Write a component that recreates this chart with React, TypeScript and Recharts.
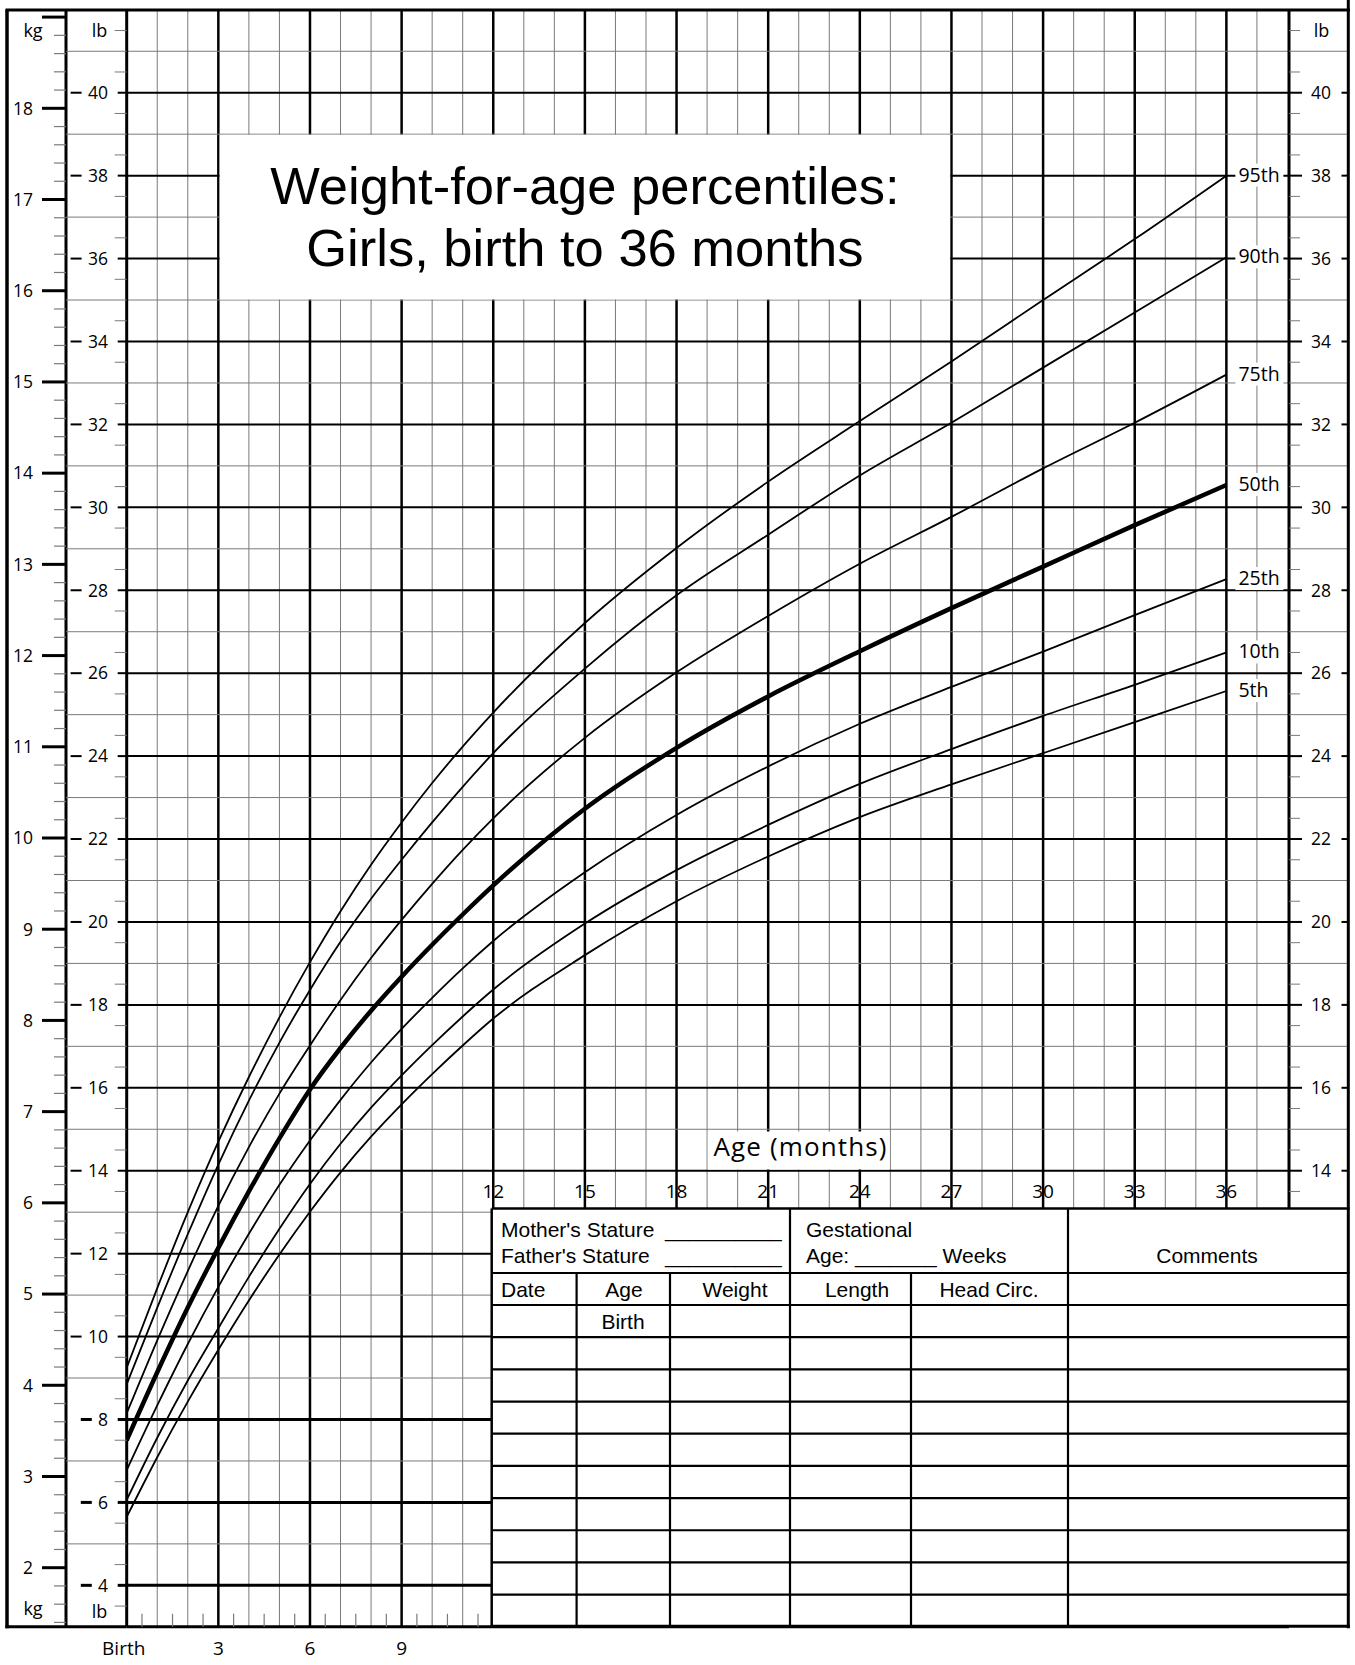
import React from 'react';
import { ComposedChart, Line, XAxis, YAxis, ReferenceLine, ReferenceDot } from 'recharts';

// ---------------- data (lb) ----------------
const ageMonths = [0, 1, 2, 3, 4, 5, 6, 7, 8, 9, 10, 11, 12, 15, 18, 21, 24, 27, 30, 33, 36];
const p95 = [9.25, 11.17, 13.0, 14.7, 16.26, 17.7, 19.03, 20.26, 21.38, 22.4, 23.35, 24.23, 25.05, 27.21, 29.02, 30.62, 32.08, 33.52, 35.0, 36.47, 38.0];
const p90 = [8.85, 10.7, 12.47, 14.15, 15.69, 17.09, 18.36, 19.52, 20.56, 21.5, 22.4, 23.26, 24.07, 26.11, 27.88, 29.34, 30.77, 32.04, 33.37, 34.7, 36.03];
const p75 = [8.15, 9.91, 11.58, 13.15, 14.57, 15.86, 17.02, 18.12, 19.13, 20.05, 20.92, 21.74, 22.5, 24.44, 26.02, 27.38, 28.64, 29.77, 30.94, 32.04, 33.2];
const p50 = [7.5, 9.14, 10.7, 12.14, 13.5, 14.78, 15.96, 16.96, 17.86, 18.68, 19.45, 20.18, 20.88, 22.73, 24.2, 25.44, 26.53, 27.57, 28.57, 29.57, 30.54];
const p25 = [6.78, 8.34, 9.82, 11.2, 12.48, 13.66, 14.73, 15.71, 16.61, 17.42, 18.17, 18.88, 19.54, 21.2, 22.58, 23.75, 24.78, 25.67, 26.52, 27.4, 28.27];
const p10 = [6.06, 7.56, 8.94, 10.2, 11.44, 12.6, 13.68, 14.65, 15.52, 16.3, 17.03, 17.72, 18.37, 19.96, 21.25, 22.34, 23.33, 24.17, 24.97, 25.72, 26.5];
const p5 = [5.65, 7.09, 8.43, 9.68, 10.87, 11.98, 13.01, 13.96, 14.82, 15.6, 16.33, 17.02, 17.67, 19.2, 20.5, 21.58, 22.53, 23.32, 24.07, 24.82, 25.57];

const percentileKeys = ['p95', 'p90', 'p75', 'p50', 'p25', 'p10', 'p5'];
const percentileNames = ['95th', '90th', '75th', '50th', '25th', '10th', '5th'];
const percentileSeries = [p95, p90, p75, p50, p25, p10, p5];

const bottomAgeTicks = [0, 3, 6, 9];
const bottomAgeTickLabels = ['Birth', '3', '6', '9'];
const upperAgeTicks = [12, 15, 18, 21, 24, 27, 30, 33, 36];

const titleLines = ['Weight-for-age percentiles:', 'Girls, birth to 36 months'];
const ageAxisTitle = 'Age (months)';
const tableColumnNames = ['Date', 'Age', 'Weight', 'Length', 'Head Circ.'];
const tableFirstRowAge = 'Birth';

const rows = ageMonths.map((m, i) => {
  const r: any = { m };
  percentileKeys.forEach((k, j) => { r[k] = percentileSeries[j][i]; });
  return r;
});

// ---------------- geometry ----------------
const W = 1355;
const H = 1665;
const PLOT_L = 126.7;
const PLOT_R = 1289;
const PLOT_T = 9.8;
const PLOT_B = 1626.8;
const LB_AXIS_W = 60.7;
const KG_AXIS_W = 60;
const R_AXIS_W = 59;
const X_MAX = 38.05;
const Y_MIN = 3;
const Y_MAX = 42;
const KG_MIN = 1.352;
const KG_MAX = 19.08;

const GRAY = '#7a7a7a';
const FONT_AXIS = '"Open Sans", "Noto Sans", sans-serif';
const FONT_TITLE = '"Liberation Sans", Arial, sans-serif';

const xOf = (m: number) => PLOT_L + (m / X_MAX) * (PLOT_R - PLOT_L);
const yOf = (lb: number) => PLOT_T + ((Y_MAX - lb) / (Y_MAX - Y_MIN)) * (PLOT_B - PLOT_T);

const monthLines = Array.from({ length: 37 }, (_, i) => i + 1);
const lbLines = Array.from({ length: 38 }, (_, i) => i + 4);
const lbTicks = Array.from({ length: 77 }, (_, i) => 3.5 + i * 0.5);
const kgTicks = Array.from({ length: 89 }, (_, i) => (i + 7) / 5);
const ageTicks = Array.from({ length: 76 }, (_, i) => i * 0.5);

// ---------------- ticks ----------------
function LbLeftTick(props: any) {
  const { x, y, payload } = props;
  const v: number = payload.value;
  const r = Math.round(v);
  if (Math.abs(v - r) > 1e-6) {
    return <line x1={x - 12} x2={x} y1={y} y2={y} stroke={GRAY} strokeWidth={1} />;
  }
  if (r % 2 !== 0) {
    return <line x1={x - LB_AXIS_W} x2={x} y1={y} y2={y} stroke={GRAY} strokeWidth={1} />;
  }
  const label = String(r);
  const right = x - 18.7;
  const left = right - label.length * 10.2;
  const sw = r <= 8 ? 3 : 2;
  return (
    <g>
      <line x1={left - 17} x2={left - 6} y1={y} y2={y} stroke="#000" strokeWidth={sw} />
      <line x1={x - 9} x2={x} y1={y} y2={y} stroke="#000" strokeWidth={sw} />
      <text x={right} y={y} dy="0.36em" textAnchor="end" fontFamily={FONT_AXIS} fontSize={17.5} fill="#000">{label}</text>
    </g>
  );
}

function KgTick(props: any) {
  const { x, y, payload } = props;
  const i = Math.round(payload.value * 5);
  if (i % 5 !== 0) {
    return <line x1={x - 12} x2={x} y1={y} y2={y} stroke={GRAY} strokeWidth={1.2} />;
  }
  const k = i / 5;
  return (
    <g>
      <line x1={x - 24} x2={x} y1={y} y2={y} stroke="#000" strokeWidth={3} />
      {k >= 2 && k <= 18 ? (
        <text x={x - 33} y={y} dy="0.36em" textAnchor="end" fontFamily={FONT_AXIS} fontSize={17.5} fill="#000">{k}</text>
      ) : null}
    </g>
  );
}

function LbRightTick(props: any) {
  const { x, y, payload } = props;
  const v: number = payload.value;
  if (v < 13.2) return null;
  const r = Math.round(v);
  if (Math.abs(v - r) > 1e-6) {
    return <line x1={x} x2={x + 11} y1={y} y2={y} stroke={GRAY} strokeWidth={1} />;
  }
  if (r % 2 !== 0) {
    return <line x1={x} x2={x + R_AXIS_W} y1={y} y2={y} stroke={GRAY} strokeWidth={1} />;
  }
  return (
    <g>
      <line x1={x} x2={x + 13} y1={y} y2={y} stroke="#000" strokeWidth={2} />
      <text x={x + 22} y={y} dy="0.36em" textAnchor="start" fontFamily={FONT_AXIS} fontSize={17.5} fill="#000">{r}</text>
      <line x1={x + 52.5} x2={x + R_AXIS_W} y1={y} y2={y} stroke="#000" strokeWidth={2} />
    </g>
  );
}

function AgeTick(props: any) {
  const { x, y, payload } = props;
  const v: number = payload.value;
  const isHalf = Math.abs(v - Math.floor(v) - 0.5) < 1e-6;
  const idx = bottomAgeTicks.indexOf(v);
  return (
    <g>
      {isHalf ? <line x1={x} x2={x} y1={y - 13} y2={y} stroke={GRAY} strokeWidth={1.2} /> : null}
      {idx >= 0 ? (
        <text x={idx === 0 ? x - 3 : x} y={y + 28.2} textAnchor="middle" fontFamily={FONT_AXIS} fontSize={19} fill="#000">
          {bottomAgeTickLabels[idx]}
        </text>
      ) : null}
    </g>
  );
}

// ---------------- overlay: title, age box, table, frame ----------------
function Overlay() {
  const tL = 491.7;
  const tR = 1349.5;
  const tT = 1208.5;
  const row1B = 1273;
  const row2B = 1305;
  const rowH = (PLOT_B - row2B) / 10;
  const colX = [576.6, 670, 790, 911, 1068];
  const colCenters = [null, 624, 735, 857, 989];
  const tf = { fontFamily: FONT_TITLE, fontSize: 21, fill: '#000' } as any;
  const bodyRows = Array.from({ length: 9 }, (_, i) => row2B + (i + 1) * rowH);
  return (
    <svg width={W} height={H} style={{ position: 'absolute', left: 0, top: 0, pointerEvents: 'none' }}>
      {/* title box */}
      <rect x={xOf(3) + 1.3} y={yOf(39) + 0.6} width={xOf(27) - xOf(3) - 2.6} height={yOf(35) - yOf(39) - 1.2} fill="#fff" />
      <text x={(xOf(3) + xOf(27)) / 2} y={204} textAnchor="middle" fontFamily={FONT_TITLE} fontSize={52.5} fill="#000">{titleLines[0]}</text>
      <text x={(xOf(3) + xOf(27)) / 2} y={266} textAnchor="middle" fontFamily={FONT_TITLE} fontSize={52.5} fill="#000">{titleLines[1]}</text>

      {/* age axis title */}
      <rect x={xOf(19) + 0.7} y={1131.5} width={xOf(25) - xOf(19) - 1.4} height={38} fill="#fff" />
      <text x={800} y={1156} textAnchor="middle" fontFamily={FONT_AXIS} fontSize={26} textLength={173} lengthAdjust="spacing" fill="#000">{ageAxisTitle}</text>

      {/* table */}
      <rect x={tL} y={tT} width={tR - tL} height={PLOT_B - tT} fill="#fff" />
      <line x1={tL} x2={tR} y1={tT} y2={tT} stroke="#000" strokeWidth={2.5} />
      <line x1={tL} x2={tL} y1={tT} y2={PLOT_B} stroke="#000" strokeWidth={2.5} />
      <line x1={tL} x2={tR} y1={row1B} y2={row1B} stroke="#000" strokeWidth={2.2} />
      <line x1={tL} x2={tR} y1={row2B} y2={row2B} stroke="#000" strokeWidth={2.2} />
      {bodyRows.map((yy, i) => (
        <line key={'r' + i} x1={tL} x2={tR} y1={yy} y2={yy} stroke="#000" strokeWidth={2.2} />
      ))}
      <line x1={790} x2={790} y1={tT} y2={row1B} stroke="#000" strokeWidth={2.2} />
      <line x1={1068} x2={1068} y1={tT} y2={row1B} stroke="#000" strokeWidth={2.2} />
      {colX.map((cx, i) => (
        <line key={'c' + i} x1={cx} x2={cx} y1={row1B} y2={PLOT_B} stroke="#000" strokeWidth={2.2} />
      ))}
      <text x={501} y={1236.7} {...tf}>Mother's Stature</text>
      <text x={665} y={1236.7} {...tf}>__________</text>
      <text x={501} y={1262.7} {...tf}>Father's Stature</text>
      <text x={665} y={1262.7} {...tf}>__________</text>
      <text x={806} y={1236.7} {...tf}>Gestational</text>
      <text x={806} y={1262.7} {...tf}>Age: _______ Weeks</text>
      <text x={1207} y={1262.7} textAnchor="middle" {...tf}>Comments</text>
      <text x={501} y={1297} {...tf}>{tableColumnNames[0]}</text>
      {tableColumnNames.slice(1).map((n, i) => (
        <text key={n} x={colCenters[i + 1] as number} y={1297} textAnchor="middle" {...tf}>{n}</text>
      ))}
      <text x={623} y={1328.5} textAnchor="middle" {...tf}>{tableFirstRowAge}</text>

      {/* frame */}
      <line x1={7} x2={7} y1={PLOT_T} y2={PLOT_B + 1.5} stroke="#000" strokeWidth={3.5} />
      <line x1={5.5} x2={1350} y1={PLOT_T + 0.2} y2={PLOT_T + 0.2} stroke="#000" strokeWidth={3} />
      <line x1={1348.3} x2={1348.3} y1={0} y2={PLOT_B + 1.5} stroke="#000" strokeWidth={3} />
      <line x1={5.5} x2={PLOT_L} y1={PLOT_B} y2={PLOT_B} stroke="#000" strokeWidth={3} />
      <line x1={tL} x2={1350} y1={PLOT_B - 0.5} y2={PLOT_B - 0.5} stroke="#000" strokeWidth={3} />

      {/* unit labels */}
      <text x={33} y={37} textAnchor="middle" fontFamily={FONT_AXIS} fontSize={18} fill="#000">kg</text>
      <text x={99.5} y={37} textAnchor="middle" fontFamily={FONT_AXIS} fontSize={18} fill="#000">lb</text>
      <text x={1321.5} y={37} textAnchor="middle" fontFamily={FONT_AXIS} fontSize={18} fill="#000">lb</text>
      <text x={33} y={1615} textAnchor="middle" fontFamily={FONT_AXIS} fontSize={18} fill="#000">kg</text>
      <text x={99.5} y={1618} textAnchor="middle" fontFamily={FONT_AXIS} fontSize={18} fill="#000">lb</text>
    </svg>
  );
}

export default function App() {
  return (
    <div style={{ position: 'absolute', left: 0, top: 0, width: W, height: H, background: '#fff' }}>
      <ComposedChart
        width={W}
        height={H}
        data={rows}
        margin={{ top: PLOT_T, right: W - PLOT_R - R_AXIS_W, bottom: 0, left: PLOT_L - LB_AXIS_W - KG_AXIS_W }}
      >
        <XAxis
          dataKey="m"
          type="number"
          domain={[0, X_MAX]}
          allowDataOverflow
          ticks={ageTicks}
          interval={0}
          height={H - PLOT_B}
          tickSize={0}
          tickMargin={0}
          tickLine={false}
          axisLine={{ stroke: '#000', strokeWidth: 3 }}
          tick={<AgeTick />}
        />
        <YAxis
          type="number"
          domain={[Y_MIN, Y_MAX]}
          allowDataOverflow
          ticks={lbTicks}
          interval={0}
          width={LB_AXIS_W}
          tickSize={0}
          tickMargin={0}
          tickLine={false}
          axisLine={{ stroke: '#000', strokeWidth: 3 }}
          tick={<LbLeftTick />}
        />
        <YAxis
          yAxisId="kg"
          type="number"
          domain={[KG_MIN, KG_MAX]}
          allowDataOverflow
          ticks={kgTicks}
          interval={0}
          width={KG_AXIS_W}
          tickSize={0}
          tickMargin={0}
          tickLine={false}
          axisLine={{ stroke: '#000', strokeWidth: 3 }}
          tick={<KgTick />}
        />
        <YAxis
          yAxisId="r"
          orientation="right"
          type="number"
          domain={[Y_MIN, Y_MAX]}
          allowDataOverflow
          ticks={lbTicks}
          interval={0}
          width={R_AXIS_W}
          tickSize={0}
          tickMargin={0}
          tickLine={false}
          axisLine={{ stroke: '#000', strokeWidth: 3 }}
          tick={<LbRightTick />}
        />

        {monthLines.map((m) => (
          <ReferenceLine
            key={'vm' + m}
            x={m}
            stroke={m % 3 === 0 ? '#000' : GRAY}
            strokeWidth={m % 3 === 0 ? 2.5 : 1}
          />
        ))}
        {lbLines.map((v) => (
          <ReferenceLine
            key={'hl' + v}
            y={v}
            stroke={v % 2 === 0 ? '#000' : GRAY}
            strokeWidth={v % 2 === 0 ? (v <= 8 ? 3 : 2) : 1}
          />
        ))}

        {percentileKeys.map((k) => (
          <Line
            key={k}
            type="monotone"
            dataKey={k}
            stroke="#000"
            strokeWidth={k === 'p50' ? 4.5 : 1.8}
            dot={false}
            activeDot={false}
            isAnimationActive={false}
          />
        ))}

        {upperAgeTicks.map((m) => (
          <ReferenceDot
            key={'ua' + m}
            x={m}
            y={13.5}
            r={1}
            ifOverflow="visible"
            shape={(p: any) => (
              <text x={p.cx} y={p.cy} dy="0.36em" textAnchor="middle" fontFamily={FONT_AXIS} fontSize={19} fill="#000">{m}</text>
            )}
          />
        ))}

        {percentileNames.map((name, i) => {
          const s = percentileSeries[i];
          return (
            <ReferenceDot
              key={name}
              x={ageMonths[ageMonths.length - 1]}
              y={s[s.length - 1]}
              r={1}
              ifOverflow="visible"
              shape={(p: any) => (
                <g>
                  <rect x={p.cx + 9} y={p.cy - 12} width={name.length * 10.5 + 6} height={23} fill="#fff" />
                  <text x={p.cx + 12} y={p.cy - 1} dy="0.36em" fontFamily={FONT_AXIS} fontSize={19.5} fill="#000">{name}</text>
                </g>
              )}
            />
          );
        })}
      </ComposedChart>
      <Overlay />
    </div>
  );
}
